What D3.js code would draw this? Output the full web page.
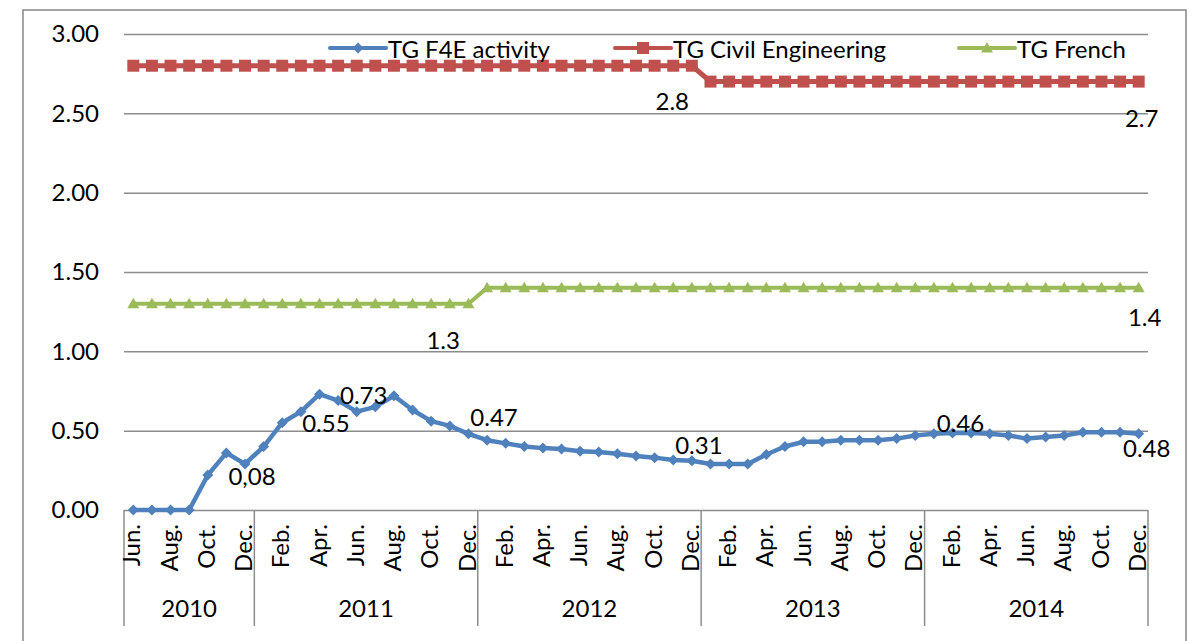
<!DOCTYPE html>
<html lang="en">
<head>
    <meta charset="UTF-8">
    <title>TG activity</title>
    <script src="https://cdn.jsdelivr.net/npm/d3@7"></script>
    <style>
        body { margin: 0; background: #fff; }
        svg text { font-family: Lato, "Open Sans", sans-serif; fill: #000; }
        .grid line { stroke: #8c8c8c; stroke-width: 1.5px; }
    </style>
</head>
<body>
    <svg width="1198" height="641"></svg>

    <script>
        // categories
        var years = [2010, 2011, 2012, 2013, 2014];
        var monthNames = ["Jan.", "Feb.", "Mar.", "Apr.", "May", "Jun.", "Jul.", "Aug.", "Sep.", "Oct.", "Nov.", "Dec."];
        var firstMonth = 5; // data starts in June 2010

        // series values (one per month, Jun 2010 .. Dec 2014)
        var f4e = [0, 0, 0, 0, 0.22, 0.36, 0.29,
            0.40, 0.55, 0.62, 0.73, 0.69, 0.62, 0.65, 0.72, 0.63, 0.56, 0.53, 0.48,
            0.44, 0.42, 0.40, 0.39, 0.385, 0.37, 0.365, 0.355, 0.34, 0.33, 0.315, 0.31,
            0.29, 0.29, 0.29, 0.35, 0.40, 0.43, 0.43, 0.44, 0.44, 0.44, 0.45, 0.47,
            0.48, 0.485, 0.485, 0.48, 0.47, 0.45, 0.46, 0.47, 0.49, 0.49, 0.49, 0.48];
        var civil = [2.8, 2.8, 2.8, 2.8, 2.8, 2.8, 2.8,
            2.8, 2.8, 2.8, 2.8, 2.8, 2.8, 2.8, 2.8, 2.8, 2.8, 2.8, 2.8,
            2.8, 2.8, 2.8, 2.8, 2.8, 2.8, 2.8, 2.8, 2.8, 2.8, 2.8, 2.8,
            2.7, 2.7, 2.7, 2.7, 2.7, 2.7, 2.7, 2.7, 2.7, 2.7, 2.7, 2.7,
            2.7, 2.7, 2.7, 2.7, 2.7, 2.7, 2.7, 2.7, 2.7, 2.7, 2.7, 2.7];
        var french = [1.3, 1.3, 1.3, 1.3, 1.3, 1.3, 1.3,
            1.3, 1.3, 1.3, 1.3, 1.3, 1.3, 1.3, 1.3, 1.3, 1.3, 1.3, 1.3,
            1.4, 1.4, 1.4, 1.4, 1.4, 1.4, 1.4, 1.4, 1.4, 1.4, 1.4, 1.4,
            1.4, 1.4, 1.4, 1.4, 1.4, 1.4, 1.4, 1.4, 1.4, 1.4, 1.4, 1.4,
            1.4, 1.4, 1.4, 1.4, 1.4, 1.4, 1.4, 1.4, 1.4, 1.4, 1.4, 1.4];

        var seriesNames = ["TG F4E activity", "TG Civil Engineering", "TG French"];
        var yTicks = [0, 0.5, 1, 1.5, 2, 2.5, 3];

        // data labels as printed on the chart
        var annotations = [
            { s: 0, i: 6, text: "0,08" },
            { s: 0, i: 9, text: "0.55" },
            { s: 0, i: 12, text: "0.73" },
            { s: 0, i: 19, text: "0.47" },
            { s: 0, i: 30, text: "0.31" },
            { s: 0, i: 44, text: "0.46" },
            { s: 0, i: 54, text: "0.48" },
            { s: 1, i: 29, text: "2.8" },
            { s: 1, i: 54, text: "2.7" },
            { s: 2, i: 16, text: "1.3" },
            { s: 2, i: 54, text: "1.4" }
        ];
        // label offsets from their point, in px
        var labelOffsets = [[7, 12], [25, 11], [7, -17], [7, -24], [7, -16], [8, -11], [8, 14],
            [-1, 35], [3, 36], [12, 36], [6, 29]];

        // build category list
        var cats = [];
        years.forEach(function(yr, k) {
            for (var m = (k === 0 ? firstMonth : 0); m < 12; m++) cats.push({ year: yr, month: monthNames[m] });
        });

        var colors = ["#4f81bd", "#c0504d", "#9bbb59"];
        var allSeries = [f4e, civil, french];

        var svg = d3.select("svg");
        var plotLeft = 124, plotRight = 1148, plotTop = 34, plotBottom = 510;
        var fontSize = "24px";

        var x = d3.scaleBand().domain(d3.range(cats.length)).range([plotLeft, plotRight]).padding(0);
        var cx = function(i) { return x(i) + x.bandwidth() / 2; };
        var y = d3.scaleLinear().domain([0, 3]).range([plotBottom, plotTop]);

        // outer frame
        svg.append("rect")
            .attr("x", 23).attr("y", 10)
            .attr("width", 1163).attr("height", 660)
            .attr("fill", "none").attr("stroke", "#868686").attr("stroke-width", 1.5);

        // gridlines + y labels
        var yAxis = d3.axisLeft(y).tickValues(yTicks).tickFormat(d3.format(".2f"))
            .tickSize(-(plotRight - plotLeft)).tickPadding(25);
        var gy = svg.append("g").attr("class", "grid")
            .attr("transform", "translate(" + plotLeft + ",0)")
            .call(yAxis);
        gy.select(".domain").remove();
        gy.selectAll("text").style("font-size", fontSize).attr("fill", "#000");

        // x axis: year separators
        var sepX = [plotLeft];
        years.forEach(function(yr) {
            var idx = d3.max(cats.map(function(c, i) { return c.year === yr ? i : -1; }));
            sepX.push(x(idx) + x.bandwidth());
        });
        svg.append("g").selectAll("line").data(sepX).enter().append("line")
            .attr("x1", function(d) { return d; }).attr("x2", function(d) { return d; })
            .attr("y1", plotBottom).attr("y2", 626)
            .attr("stroke", "#8c8c8c").attr("stroke-width", 1.5);

        // month labels (every second month)
        svg.append("g").selectAll("text")
            .data(cats.filter(function(c, i) { return i % 2 === 0; }))
            .enter().append("text")
            .attr("transform", function(d) {
                var i = cats.indexOf(d);
                return "translate(" + (cx(i) + 1) + ",524) rotate(-90)";
            })
            .attr("text-anchor", "end")
            .attr("dominant-baseline", "middle")
            .style("font-size", fontSize)
            .text(function(d) { return d.month; });

        // year labels
        svg.append("g").selectAll("text").data(years).enter().append("text")
            .attr("x", function(d, k) { return (sepX[k] + sepX[k + 1]) / 2; })
            .attr("y", 617)
            .attr("text-anchor", "middle")
            .style("font-size", fontSize)
            .text(function(d) { return d; });

        // markers
        var diamond = "M0,-5.5L5.5,0L0,5.5L-5.5,0Z";
        var square = "M-6,-6H6V6H-6Z";
        var triangle = "M0,-6L6,4.5H-6Z";
        var markers = [diamond, square, triangle];
        var lineWidths = [4.5, 5, 4];

        var line = d3.line().x(function(d, i) { return cx(i); }).y(function(d) { return y(d); });

        allSeries.forEach(function(vals, s) {
            svg.append("path")
                .datum(vals)
                .attr("d", line)
                .attr("fill", "none")
                .attr("stroke", colors[s])
                .attr("stroke-width", lineWidths[s])
                .attr("stroke-linejoin", "round");
            svg.append("g").selectAll("path").data(vals).enter().append("path")
                .attr("d", markers[s])
                .attr("transform", function(d, i) { return "translate(" + cx(i) + "," + y(d) + ")"; })
                .attr("fill", colors[s]);
        });

        // data labels
        svg.append("g").selectAll("text").data(annotations).enter().append("text")
            .attr("x", function(d, k) { return cx(d.i) + labelOffsets[k][0]; })
            .attr("y", function(d, k) { return y(allSeries[d.s][d.i]) + labelOffsets[k][1]; })
            .attr("text-anchor", "middle")
            .attr("dominant-baseline", "central")
            .style("font-size", fontSize)
            .text(function(d) { return d.text; });

        // legend
        var legendX = [330, 615, 959];
        var lg = svg.append("g").selectAll("g").data(seriesNames).enter().append("g")
            .attr("transform", function(d, k) { return "translate(" + legendX[k] + ",48)"; });
        lg.append("line")
            .attr("x1", 0).attr("x2", 56).attr("y1", 0).attr("y2", 0)
            .attr("stroke", function(d, k) { return colors[k]; })
            .attr("stroke-width", 4).attr("stroke-linecap", "round");
        lg.append("path")
            .attr("d", function(d, k) { return markers[k]; })
            .attr("transform", "translate(28,0)")
            .attr("fill", function(d, k) { return colors[k]; });
        lg.append("text")
            .attr("x", 58).attr("y", 0)
            .attr("dominant-baseline", "central")
            .style("font-size", fontSize)
            .text(function(d) { return d; });
    </script>
</body>
</html>
